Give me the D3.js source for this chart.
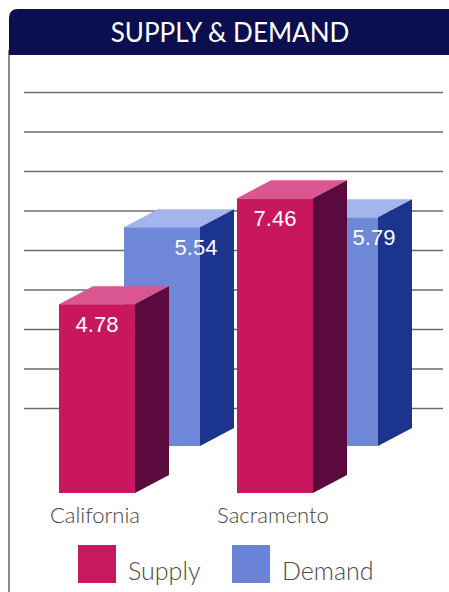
<!DOCTYPE html>
<html>
<head>
<meta charset="utf-8">
<script src="https://cdn.jsdelivr.net/npm/d3@7"></script>
<style>
  body { margin: 0; background: #fff; }
  svg { display: block; }
  .title { font-family: Lato, sans-serif; font-weight: 400; font-size: 26px; fill: #fff; }
  .cat { font-family: Lato, sans-serif; font-weight: 300; font-size: 22px; fill: #444; }
  .value { font-family: "Liberation Sans", Arial, sans-serif; font-size: 22px; fill: #fff; }
  .legend-label { font-family: Lato, sans-serif; font-weight: 300; font-size: 25px; fill: #4a4a4a; }
</style>
</head>
<body>
<div id="chart"></div>
<script>
const categories = ["California", "Sacramento"];
const supply = [4.78, 7.46];
const demand = [5.54, 5.79];
const seriesNames = ["Supply", "Demand"];
const gridTicks = [1, 2, 3, 4, 5, 6, 7, 8, 9];

const WIDTH = 449, HEIGHT = 592;
const BASE = 493;            // floor line of the front row
const PX_PER_UNIT = 39.5;
const DEPTH = { dx: 34, dy: -18 };   // side / top face depth
const ROW = { dx: 65, dy: -47 };     // back row (demand) offset

const colors = {
  Supply: { front: "#c8165f", top: "#da5690", side: "#5b0a3d", swatch: "#c8185f" },
  Demand: { front: "#6f87d7", top: "#a4b4ec", side: "#1b358f", swatch: "#6b84d8" }
};

const svg = d3.select("#chart").append("svg")
  .attr("width", WIDTH).attr("height", HEIGHT);

// frame + header
svg.append("line")
  .attr("x1", 9).attr("x2", 9).attr("y1", 50).attr("y2", HEIGHT)
  .attr("stroke", "#8a8a8a").attr("stroke-width", 2);

svg.append("path")
  .attr("d", "M9,55 V18 Q9,9 18,9 H449 V55 Z")
  .attr("fill", "#0b0f4f");

svg.append("text")
  .attr("class", "title")
  .attr("x", 230).attr("y", 42)
  .attr("text-anchor", "middle")
  .text("SUPPLY & DEMAND");

const x = d3.scaleBand()
  .domain(categories)
  .range([59, 313])
  .paddingInner(0.573);

const h = d3.scaleLinear()
  .domain([0, 1])
  .range([0, PX_PER_UNIT]);

// gridlines sit on the back wall
const gridBase = BASE + ROW.dy + 2;
svg.append("g")
  .selectAll("line")
  .data(gridTicks)
  .join("line")
  .attr("x1", 24).attr("x2", 443)
  .attr("y1", d => gridBase - h(d))
  .attr("y2", d => gridBase - h(d))
  .attr("stroke", "#6b6b6b")
  .attr("stroke-width", 1.5);

const rows = [
  { name: "Demand", values: demand, off: ROW },
  { name: "Supply", values: supply, off: { dx: 0, dy: 0 } }
];

const w = x.bandwidth();

rows.forEach(row => {
  const c = colors[row.name];
  const bars = row.values.map((v, i) => {
    const x0 = x(categories[i]) + row.off.dx;
    const yb = BASE + row.off.dy;
    const yt = yb - h(v);
    return { v, x0, yb, yt };
  });

  const g = svg.append("g").attr("class", "row-" + row.name);

  const bar = g.selectAll("g").data(bars).join("g");

  bar.append("rect")
    .attr("x", d => d.x0).attr("y", d => d.yt)
    .attr("width", w).attr("height", d => d.yb - d.yt)
    .attr("fill", c.front);

  bar.append("polygon")
    .attr("points", d => [
      [d.x0, d.yt], [d.x0 + w, d.yt],
      [d.x0 + w + DEPTH.dx, d.yt + DEPTH.dy], [d.x0 + DEPTH.dx, d.yt + DEPTH.dy]
    ].join(" "))
    .attr("fill", c.top);

  bar.append("polygon")
    .attr("points", d => [
      [d.x0 + w, d.yt], [d.x0 + w + DEPTH.dx, d.yt + DEPTH.dy],
      [d.x0 + w + DEPTH.dx, d.yb + DEPTH.dy], [d.x0 + w, d.yb]
    ].join(" "))
    .attr("fill", c.side);

  bar.append("text")
    .attr("class", "value")
    .attr("x", d => row.name === "Supply" ? d.x0 + w / 2 : d.x0 + w - 4)
    .attr("y", d => d.yt + 28)
    .attr("text-anchor", "middle")
    .text(d => d.v.toFixed(2));
});

// category labels under front row
svg.append("g")
  .selectAll("text")
  .data(categories)
  .join("text")
  .attr("class", "cat")
  .attr("x", d => x(d) + w / 2 - 2)
  .attr("y", 523)
  .attr("text-anchor", "middle")
  .text(d => d);

// legend
const legend = svg.append("g")
  .selectAll("g")
  .data(seriesNames)
  .join("g")
  .attr("transform", (d, i) => `translate(${78 + i * 154}, 545)`);

legend.append("rect")
  .attr("width", 38).attr("height", 38)
  .attr("fill", d => colors[d].swatch);

legend.append("text")
  .attr("class", "legend-label")
  .attr("x", 50).attr("y", 35)
  .text(d => d);
</script>
</body>
</html>
